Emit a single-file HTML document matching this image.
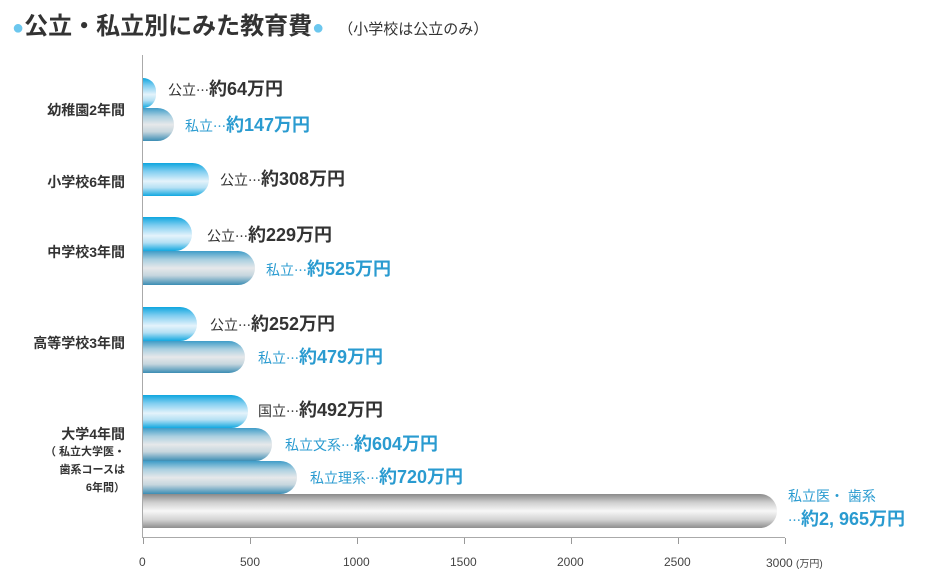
<!DOCTYPE html>
<html><head><meta charset="utf-8"><style>
body{margin:0;width:937px;height:574px;background:#fff;position:relative;overflow:hidden;font-family:"Liberation Sans","Noto Sans CJK JP",sans-serif;color:#333}
.a{position:absolute;white-space:nowrap}
.bar{position:absolute;left:143px;border-radius:0 17px 17px 0}
.pub{background:linear-gradient(#0ea6df 0%,#7fcdf0 25%,#e4f3fb 55%,#b5e0f4 75%,#12a8e0 100%)}
.pri{background:linear-gradient(#3e9cc8 0%,#a9cfe0 25%,#e6e8ea 50%,#c6d6de 72%,#3b8db4 100%)}
.med{background:linear-gradient(#8a8a8a 0%,#cfcfcf 25%,#f7f7f7 50%,#d4d4d4 75%,#8e8e8e 100%)}
.lb{font-size:14px}
.e{font-family:"Noto Sans CJK JP",sans-serif;font-size:13px}
.v{font-size:18px;font-weight:bold}
.k{color:#2a9bd0}
.cat{font-size:14px;color:#333;text-align:right;font-weight:bold;right:812px}
.tick{position:absolute;top:538px;width:1px;height:6px;background:#999}
.tl{position:absolute;top:555px;font-size:12px;color:#444}
</style></head><body>
<div class="a" style="left:12px;top:6px;font-size:24px;font-weight:bold;color:#333"><span style="color:#6cc7ee;font-size:20px">●</span>公立・私立別にみた教育費<span style="color:#6cc7ee;font-size:20px">●</span><span style="font-size:15px;font-weight:normal;margin-left:14px">（小学校は公立のみ）</span></div>
<div class="a" style="left:142px;top:55px;width:1px;height:483px;background:#aaa"></div>
<div class="a" style="left:142px;top:537px;width:643px;height:1px;background:#aaa"></div>
<div class="tick" style="left:143px"></div><div class="tick" style="left:250px"></div><div class="tick" style="left:357px"></div><div class="tick" style="left:464px"></div><div class="tick" style="left:571px"></div><div class="tick" style="left:678px"></div><div class="tick" style="left:785px"></div>
<div class="tl" style="left:139px">0</div><div class="tl" style="left:240px">500</div><div class="tl" style="left:343px">1000</div><div class="tl" style="left:450px">1500</div><div class="tl" style="left:557px">2000</div><div class="tl" style="left:664px">2500</div><div class="tl" style="left:766px">3000 <span style="font-size:10px">(万円)</span></div>

<div class="a cat" style="top:100px">幼稚園2年間</div>
<div class="a cat" style="top:172px">小学校6年間</div>
<div class="a cat" style="top:242px">中学校3年間</div>
<div class="a cat" style="top:333px">高等学校3年間</div>
<div class="a cat" style="top:426px;line-height:16px">大学4年間<br><span style="font-size:11px">（ 私立大学医・<br>歯系コースは<br>6年間）</span></div>

<div class="bar pub" style="top:78px;height:30px;width:13px"></div>
<div class="bar pri" style="top:108px;height:33px;width:31px"></div>
<div class="bar pub" style="top:163px;height:33px;width:66px"></div>
<div class="bar pub" style="top:217px;height:34px;width:49px"></div>
<div class="bar pri" style="top:251px;height:34px;width:112px"></div>
<div class="bar pub" style="top:307px;height:34px;width:54px"></div>
<div class="bar pri" style="top:341px;height:32px;width:102px"></div>
<div class="bar pub" style="top:395px;height:33px;width:105px"></div>
<div class="bar pri" style="top:428px;height:33px;width:129px"></div>
<div class="bar pri" style="top:461px;height:33px;width:154px"></div>
<div class="bar med" style="top:494px;height:34px;width:634px"></div>

<div class="a" style="left:168px;top:75px"><span class="lb">公立</span><span class="e">…</span><span class="v">約64万円</span></div>
<div class="a k" style="left:185px;top:111px"><span class="lb">私立</span><span class="e">…</span><span class="v">約147万円</span></div>
<div class="a" style="left:220px;top:165px"><span class="lb">公立</span><span class="e">…</span><span class="v">約308万円</span></div>
<div class="a" style="left:207px;top:221px"><span class="lb">公立</span><span class="e">…</span><span class="v">約229万円</span></div>
<div class="a k" style="left:266px;top:255px"><span class="lb">私立</span><span class="e">…</span><span class="v">約525万円</span></div>
<div class="a" style="left:210px;top:310px"><span class="lb">公立</span><span class="e">…</span><span class="v">約252万円</span></div>
<div class="a k" style="left:258px;top:343px"><span class="lb">私立</span><span class="e">…</span><span class="v">約479万円</span></div>
<div class="a" style="left:258px;top:396px"><span class="lb">国立</span><span class="e">…</span><span class="v">約492万円</span></div>
<div class="a k" style="left:285px;top:430px"><span class="lb">私立文系</span><span class="e">…</span><span class="v">約604万円</span></div>
<div class="a k" style="left:310px;top:463px"><span class="lb">私立理系</span><span class="e">…</span><span class="v">約720万円</span></div>
<div class="a k" style="left:788px;top:485px;line-height:23px"><span class="lb">私立医・ 歯系</span><br><span class="e">…</span><span class="v">約2, 965万円</span></div>
</body></html>
